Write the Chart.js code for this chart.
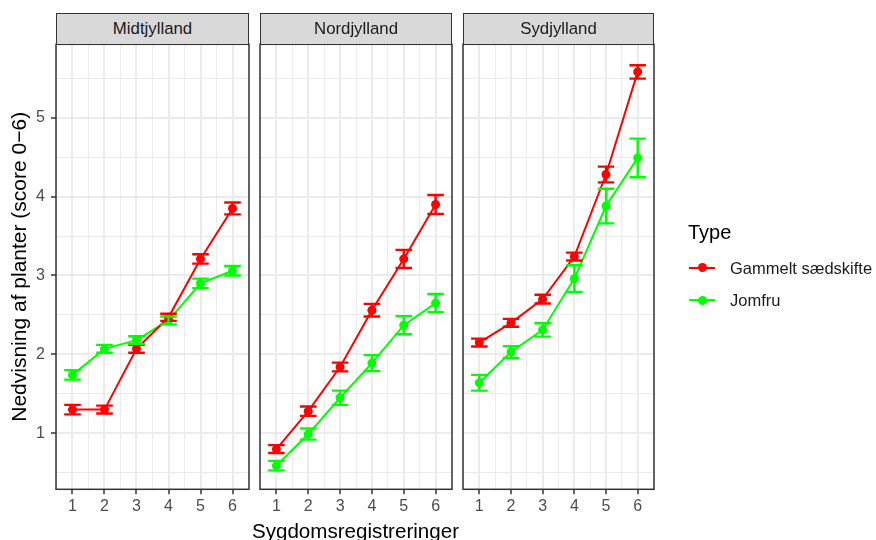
<!DOCTYPE html>
<html>
<head>
<meta charset="utf-8">
<script src="https://cdn.jsdelivr.net/npm/chart.js@4.4.1/dist/chart.umd.min.js"></script>
<style>
html,body{margin:0;padding:0;background:#fff;}
#wrap{position:relative;width:876px;height:540px;overflow:hidden;font-family:"Liberation Sans",Arial,sans-serif;}
canvas{position:absolute;left:0;top:0;}
.strip{position:absolute;box-sizing:border-box;background:#D9D9D9;border:1.5px solid #333;color:#1A1A1A;font-size:16.8px;display:flex;align-items:center;justify-content:center;}
.lg{position:absolute;white-space:nowrap;}
.lgtitle{font-size:20px;line-height:20px;color:#000;}
.lgtext{font-size:16.5px;line-height:18px;color:#1A1A1A;}
.keyline{position:absolute;height:2px;width:26px;}
.keydot{position:absolute;width:9px;height:9px;border-radius:50%;}
.xtitle{position:absolute;white-space:nowrap;font-size:20.6px;line-height:20px;color:#000;transform:translateX(-50%);}
</style>
</head>
<body>
<div id="wrap">
  <canvas id="c1" width="876" height="540"></canvas>
  <canvas id="c2" width="876" height="540"></canvas>
  <canvas id="c3" width="876" height="540"></canvas>
</div>
<script>
// ---- data ----
const registrations = [1, 2, 3, 4, 5, 6];
const regions = ['Midtjylland', 'Nordjylland', 'Sydjylland'];
const typeNames = ['Gammelt sædskifte', 'Jomfru'];
const typeColors = ['#FF0000', '#00FF00'];

const midGammelt    = [1.30, 1.30, 2.07, 2.47, 3.21, 3.85];
const midGammeltErr = [0.06, 0.05, 0.05, 0.045, 0.06, 0.075];
const midJomfru     = [1.74, 2.07, 2.18, 2.43, 2.90, 3.06];
const midJomfruErr  = [0.06, 0.05, 0.05, 0.05, 0.06, 0.06];

const nordGammelt    = [0.80, 1.28, 1.84, 2.56, 3.21, 3.90];
const nordGammeltErr = [0.05, 0.06, 0.055, 0.08, 0.115, 0.12];
const nordJomfru     = [0.59, 0.99, 1.45, 1.89, 2.37, 2.65];
const nordJomfruErr  = [0.06, 0.07, 0.09, 0.10, 0.115, 0.115];

const sydGammelt    = [2.15, 2.40, 2.70, 3.24, 4.28, 5.58];
const sydGammeltErr = [0.05, 0.05, 0.055, 0.05, 0.10, 0.085];
const sydJomfru     = [1.64, 2.03, 2.31, 2.96, 3.88, 4.49];
const sydJomfruErr  = [0.10, 0.075, 0.085, 0.17, 0.22, 0.245];

const yTickValues = [1, 2, 3, 4, 5];
const xTitle = 'Sygdomsregistreringer';
const yTitle = 'Nedvisning af planter (score 0\u22126)';
const legendTitle = 'Type';

// ---- layout ----
const FONT = '"Liberation Sans", Arial, sans-serif';
const W = 876, H = 540;
const panels = [
  {left: 56, right: 249},
  {left: 260, right: 452},
  {left: 463, right: 654}
];
const plotTop = 44.3, plotBottom = 489.3, stripTop = 12.7;
const capHalf = 0.26;

const seriesByRegion = [
  [[midGammelt, midGammeltErr], [midJomfru, midJomfruErr]],
  [[nordGammelt, nordGammeltErr], [nordJomfru, nordJomfruErr]],
  [[sydGammelt, sydGammeltErr], [sydJomfru, sydJomfruErr]]
];

const isInt = v => Math.abs(v - Math.round(v)) < 1e-9;

const errorBarPlugin = {
  id: 'errorBars',
  afterDatasetsDraw(chart) {
    const {ctx, scales: {x, y}} = chart;
    chart.data.datasets.forEach((ds) => {
      ctx.save();
      ctx.strokeStyle = ds.borderColor;
      ctx.lineWidth = 2.4;
      ds.data.forEach((p, j) => {
        const e = ds.errors[j];
        const px = x.getPixelForValue(p.x);
        const xl = x.getPixelForValue(p.x - capHalf);
        const xr = x.getPixelForValue(p.x + capHalf);
        const yt = y.getPixelForValue(p.y + e);
        const yb = y.getPixelForValue(p.y - e);
        ctx.beginPath();
        ctx.moveTo(px, yt); ctx.lineTo(px, yb);
        ctx.moveTo(xl, yt); ctx.lineTo(xr, yt);
        ctx.moveTo(xl, yb); ctx.lineTo(xr, yb);
        ctx.stroke();
      });
      ctx.restore();
    });
  }
};

const borderPlugin = {
  id: 'panelBorder',
  afterDraw(chart) {
    const a = chart.chartArea;
    const ctx = chart.ctx;
    ctx.save();
    ctx.strokeStyle = '#333333';
    ctx.lineWidth = 1.5;
    ctx.strokeRect(a.left, a.top, a.right - a.left, a.bottom - a.top);
    ctx.restore();
  }
};

function gridOpts(showTicks) {
  return {
    color: c => '#EBEBEB',
    lineWidth: c => (c.tick && isInt(c.tick.value)) ? 2 : 1,
    drawTicks: showTicks,
    tickLength: 5,
    tickWidth: 1.5,
    tickColor: c => (c.tick && isInt(c.tick.value)) ? '#333333' : 'rgba(0,0,0,0)'
  };
}

function makeChart(id, idx) {
  const p = panels[idx];
  const yAxisWidth = idx === 0 ? 56 : 0;
  const datasets = seriesByRegion[idx].map((s, k) => ({
    label: typeNames[k],
    data: registrations.map((r, j) => ({x: r, y: s[0][j]})),
    errors: s[1],
    borderColor: typeColors[k],
    backgroundColor: typeColors[k],
    borderWidth: 2,
    pointRadius: 4.5,
    pointBorderWidth: 0,
    showLine: true,
    tension: 0
  }));
  return new Chart(document.getElementById(id), {
    type: 'line',
    data: {datasets},
    plugins: [errorBarPlugin, borderPlugin],
    options: {
      responsive: false,
      animation: false,
      devicePixelRatio: 1,
      layout: {padding: {left: p.left - yAxisWidth, right: W - p.right, top: plotTop, bottom: 0}},
      plugins: {legend: {display: false}, tooltip: {enabled: false}},
      scales: {
        x: {
          type: 'linear',
          min: 0.485, max: 6.515,
          afterFit(s) { s.height = H - plotBottom; },
          border: {display: false},
          grid: gridOpts(true),
          ticks: {
            stepSize: 0.5, includeBounds: false, autoSkip: false, maxRotation: 0,
            padding: 3, color: '#4D4D4D', font: {size: 16, family: FONT},
            callback: v => isInt(v) && registrations.includes(v) ? String(v) : ''
          }
        },
        y: {
          type: 'linear',
          min: 0.29, max: 5.93,
          afterFit(s) { s.width = yAxisWidth; },
          border: {display: false},
          grid: gridOpts(idx === 0),
          ticks: {
            display: idx === 0,
            stepSize: 0.5, includeBounds: false, autoSkip: false,
            padding: 6, color: '#4D4D4D', font: {size: 16, family: FONT},
            callback: v => yTickValues.includes(v) ? String(v) : ''
          },
          title: {
            display: idx === 0, text: yTitle, color: '#000000',
            font: {size: 21, family: FONT, lineHeight: 1}, padding: {top: 10, bottom: 0}
          }
        }
      }
    }
  });
}

makeChart('c1', 0);
makeChart('c2', 1);
makeChart('c3', 2);

const wrap = document.getElementById('wrap');

// ---- x axis title (spans the facets) ----
const xt = document.createElement('div');
xt.className = 'xtitle';
xt.style.left = '355.5px'; xt.style.top = '520.9px';
xt.textContent = xTitle;
wrap.appendChild(xt);

// ---- strips ----
regions.forEach((name, i) => {
  const d = document.createElement('div');
  d.className = 'strip';
  d.style.left = panels[i].left + 'px';
  d.style.top = stripTop + 'px';
  d.style.width = (panels[i].right - panels[i].left) + 'px';
  d.style.height = (plotTop - stripTop + 1) + 'px';
  d.textContent = name;
  wrap.appendChild(d);
});

// ---- legend ----
const lt = document.createElement('div');
lt.className = 'lg lgtitle';
lt.style.left = '688px'; lt.style.top = '221.7px';
lt.textContent = legendTitle;
wrap.appendChild(lt);
const legendY = [267.7, 300];
typeNames.forEach((n, k) => {
  const line = document.createElement('div');
  line.className = 'keyline';
  line.style.left = '689px'; line.style.top = (legendY[k] - 1) + 'px';
  line.style.background = typeColors[k];
  wrap.appendChild(line);
  const dot = document.createElement('div');
  dot.className = 'keydot';
  dot.style.left = '697.5px'; dot.style.top = (legendY[k] - 4.5) + 'px';
  dot.style.background = typeColors[k];
  wrap.appendChild(dot);
  const t = document.createElement('div');
  t.className = 'lg lgtext';
  t.style.left = '730px'; t.style.top = (legendY[k] - 9) + 'px';
  t.textContent = n;
  wrap.appendChild(t);
});
</script>
</body>
</html>
